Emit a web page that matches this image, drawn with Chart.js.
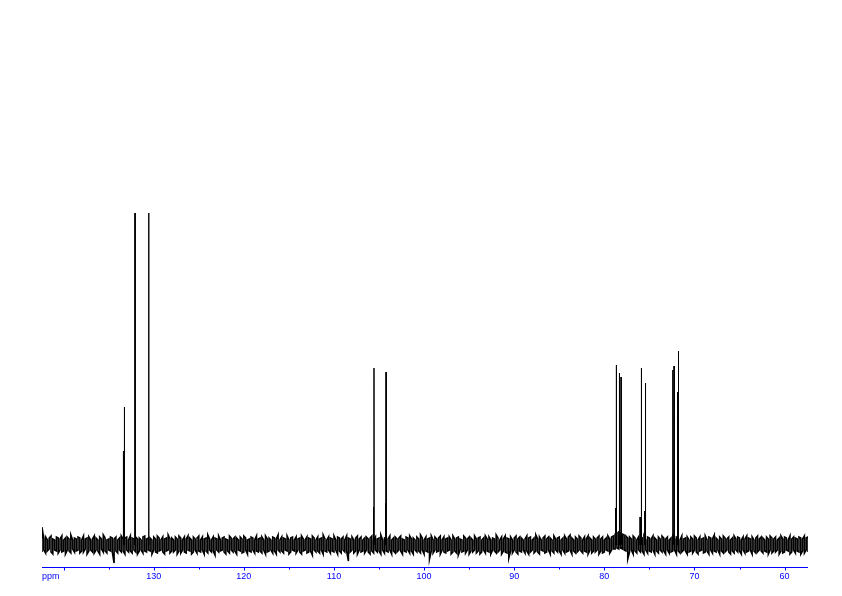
<!DOCTYPE html>
<html>
<head>
<meta charset="utf-8">
<script src="https://cdn.jsdelivr.net/npm/chart.js@4/dist/chart.umd.min.js"></script>
<style>
  html, body { margin: 0; padding: 0; background: #fff; }
  canvas { display: block; }
</style>
</head>
<body>
<canvas id="nmrChart" width="842" height="596"></canvas>
<script>
// spectrum window (ppm), left edge is the high value
const ppmLeft = 142.4;
const ppmRight = 57.4;
const ppmStep = 0.2;

// baseline noise, per 0.2 ppm column from the left:
// highest and lowest excursion in that column
const noiseTop = [
  18,6,8,5,7,9,6,5,8,7,6,9,5,7,8,6,10,5,7,6,
  8,7,5,9,6,7,8,5,6,9,7,5,8,6,10,7,5,6,8,7,
  6,8,5,7,9,6,7,8,5,9,7,6,8,6,7,5,8,9,6,7,
  7,5,8,6,9,7,5,8,6,7,10,6,7,5,8,6,9,7,5,8,
  6,9,7,5,8,6,7,9,5,8,6,7,10,6,5,8,7,6,9,5,
  7,8,6,5,9,7,6,8,7,5,8,6,9,7,5,6,8,7,5,9,
  6,7,8,5,9,6,7,5,8,7,6,10,5,8,7,6,9,5,7,8,
  5,8,6,7,9,6,5,8,7,6,9,7,5,8,6,7,10,6,5,8,
  7,6,9,5,8,7,6,8,5,9,7,6,8,5,7,9,6,8,5,7,
  8,6,7,9,5,8,6,7,10,5,7,8,6,9,5,7,8,6,7,9,
  6,5,8,7,9,6,7,5,8,6,10,7,5,8,6,7,9,5,8,6,
  7,9,5,8,6,7,8,5,9,6,7,8,6,5,9,7,6,8,7,5,
  9,6,7,8,5,7,9,6,8,5,7,6,10,7,5,8,6,9,7,6,
  8,5,7,9,6,8,7,5,6,9,7,8,5,7,10,6,8,5,7,9,
  6,8,7,5,9,6,7,8,5,7,9,6,8,10,7,5,8,6,9,7,
  5,8,6,9,7,5,8,6,7,9,6,8,5,7,9,6,8,9,11,12,
  13,12,11,10,9,7,8,6,9,7,5,8,6,7,9,5,8,7,6,9,
  7,5,8,6,9,7,6,8,5,7,9,6,8,7,5,9,6,7,8,5,
  8,6,9,7,5,8,6,7,9,5,8,7,6,10,7,5,8,6,9,7,
  6,8,5,7,9,6,8,7,5,8,6,9,7,6,8,5,7,9,6,8,
  7,5,8,6,9,7,6,8,5,7,9,6,8,7,5,9,6,8,7,6,
  8,7,6,9,7,8
];
const noiseBottom = [
  -7,-5,-8,-6,-4,-7,-9,-5,-6,-8,-5,-7,-6,-9,-5,-6,-8,-4,-7,-6,
  -5,-8,-6,-7,-4,-9,-6,-5,-7,-8,-5,-6,-9,-4,-7,-6,-8,-5,-6,-7,
  -18,-6,-8,-5,-7,-6,-9,-5,-7,-6,-8,-5,-7,-9,-6,-5,-8,-6,-7,-5,
  -6,-9,-5,-7,-8,-6,-5,-7,-9,-6,-5,-8,-6,-7,-5,-9,-6,-8,-5,-7,
  -8,-5,-6,-9,-7,-5,-8,-6,-7,-5,-9,-6,-8,-5,-7,-6,-10,-5,-7,-6,
  -5,-7,-9,-6,-8,-5,-7,-6,-9,-5,-6,-8,-7,-5,-9,-6,-7,-5,-8,-6,
  -7,-6,-8,-5,-9,-7,-6,-5,-8,-6,-9,-5,-7,-6,-8,-5,-6,-9,-7,-5,
  -6,-8,-5,-7,-9,-6,-5,-8,-7,-6,-10,-5,-7,-6,-8,-5,-9,-6,-7,-5,
  -8,-6,-7,-5,-9,-6,-8,-5,-7,-6,-16,-7,-5,-8,-6,-9,-5,-7,-6,-8,
  -5,-7,-9,-6,-8,-5,-7,-6,-9,-5,-8,-6,-7,-5,-9,-6,-8,-7,-5,-6,
  -9,-6,-7,-5,-8,-6,-9,-5,-7,-6,-8,-5,-9,-6,-7,-14,-6,-8,-5,-7,
  -6,-9,-5,-7,-8,-6,-5,-9,-7,-6,-8,-10,-5,-7,-6,-8,-5,-9,-6,-7,
  -5,-8,-6,-9,-7,-5,-8,-6,-7,-9,-5,-6,-8,-7,-5,-9,-6,-7,-8,-13,
  -6,-8,-5,-7,-9,-6,-7,-5,-8,-6,-9,-7,-5,-8,-6,-7,-9,-5,-6,-8,
  -7,-5,-9,-6,-8,-5,-7,-6,-9,-5,-8,-7,-6,-5,-9,-6,-8,-7,-5,-6,
  -8,-6,-7,-9,-5,-8,-6,-7,-5,-9,-6,-8,-7,-5,-6,-8,-5,-4,-4,-3,
  -4,-3,-4,-5,-6,-14,-7,-5,-9,-6,-8,-5,-7,-6,-9,-5,-8,-6,-7,-5,
  -9,-6,-8,-5,-7,-6,-9,-5,-8,-7,-6,-5,-9,-6,-8,-7,-5,-6,-9,-7,
  -6,-8,-5,-7,-9,-6,-5,-8,-7,-6,-9,-5,-8,-6,-7,-5,-9,-6,-8,-7,
  -5,-7,-9,-6,-8,-5,-7,-6,-9,-5,-8,-7,-6,-5,-9,-6,-8,-7,-5,-6,
  -8,-6,-7,-9,-5,-8,-6,-7,-5,-9,-6,-8,-7,-5,-6,-9,-7,-5,-8,-6,
  -7,-9,-6,-8,-5,-7
];

// peak lines
const peakPpm = [133.37, 133.26, 132.08, 130.56,
  105.62, 105.56, 104.29, 104.22,
  78.76, 78.67, 78.33, 78.14,
  76.03, 75.89, 75.53, 75.44,
  72.40, 72.26, 71.89, 71.78];
const peakHeight = [94, 138, 332, 332,
  38, 177, 42, 173,
  37, 180, 172, 168,
  28, 177, 34, 162,
  175, 179, 153, 194];

// axis ticks
const majorTicks = [140, 130, 120, 110, 100, 90, 80, 70, 60];
const minorTicks = [135, 125, 115, 105, 95, 85, 75, 65];
const tickLabels = ['', '130', '120', '110', '100', '90', '80', '70', '60'];
const axisUnit = 'ppm';

// each column is drawn low->high or high->low so the trace zigzags like the plotter does
const noisePoints = [];
noiseTop.forEach((top, i) => {
  const x = ppmLeft - i * ppmStep;
  if (i % 2 === 0) {
    noisePoints.push({ x: x, y: noiseBottom[i] }, { x: x, y: top });
  } else {
    noisePoints.push({ x: x, y: top }, { x: x, y: noiseBottom[i] });
  }
});

// peaks as thin separate strokes, broken apart with nulls
const peakPoints = [];
peakPpm.forEach((p, i) => {
  peakPoints.push({ x: p + 0.02, y: 0 });
  peakPoints.push({ x: p, y: peakHeight[i] });
  peakPoints.push({ x: p - 0.02, y: 0 });
  peakPoints.push({ x: p - 0.03, y: null });
});

const blue = '#0000ff';

const ppmAxis = {
  id: 'ppmAxis',
  afterDraw(chart) {
    const ctx = chart.ctx;
    const area = chart.chartArea;
    const xs = chart.scales.x;
    const y0 = Math.round(area.bottom) + 0.5;
    ctx.save();
    ctx.strokeStyle = blue;
    ctx.lineWidth = 1;
    ctx.beginPath();
    ctx.moveTo(area.left, y0);
    ctx.lineTo(area.right, y0);
    majorTicks.forEach(t => {
      const x = Math.round(xs.getPixelForValue(t)) + 0.5;
      ctx.moveTo(x, y0);
      ctx.lineTo(x, y0 + 3);
    });
    minorTicks.forEach(t => {
      const x = Math.round(xs.getPixelForValue(t)) + 0.5;
      ctx.moveTo(x, y0);
      ctx.lineTo(x, y0 + 2);
    });
    ctx.stroke();
    ctx.fillStyle = blue;
    ctx.font = '9px "Liberation Sans", Arial, sans-serif';
    ctx.textBaseline = 'top';
    ctx.textAlign = 'center';
    majorTicks.forEach((t, i) => {
      if (tickLabels[i]) ctx.fillText(tickLabels[i], xs.getPixelForValue(t), y0 + 5);
    });
    ctx.textAlign = 'left';
    ctx.fillText(axisUnit, area.left, y0 + 5);
    ctx.restore();
  }
};

const nmrChart = new Chart(
  document.getElementById('nmrChart'),
  {
    type: 'line',
    data: {
      datasets: [{
        data: noisePoints,
        borderColor: '#000000',
        borderWidth: 1.6,
        pointRadius: 0,
        tension: 0,
        fill: false
      }, {
        data: peakPoints,
        borderColor: '#000000',
        borderWidth: 1,
        pointRadius: 0,
        tension: 0,
        fill: false,
        spanGaps: false
      }]
    },
    options: {
      responsive: false,
      animation: false,
      devicePixelRatio: 1,
      layout: { padding: { left: 42, right: 34, top: 20, bottom: 29 } },
      scales: {
        x: { type: 'linear', reverse: true, min: ppmRight, max: ppmLeft, display: false },
        y: { min: -22, max: 525, display: false }
      },
      plugins: {
        legend: { display: false },
        tooltip: { enabled: false }
      }
    },
    plugins: [ppmAxis]
  }
);
</script>
</body>
</html>
